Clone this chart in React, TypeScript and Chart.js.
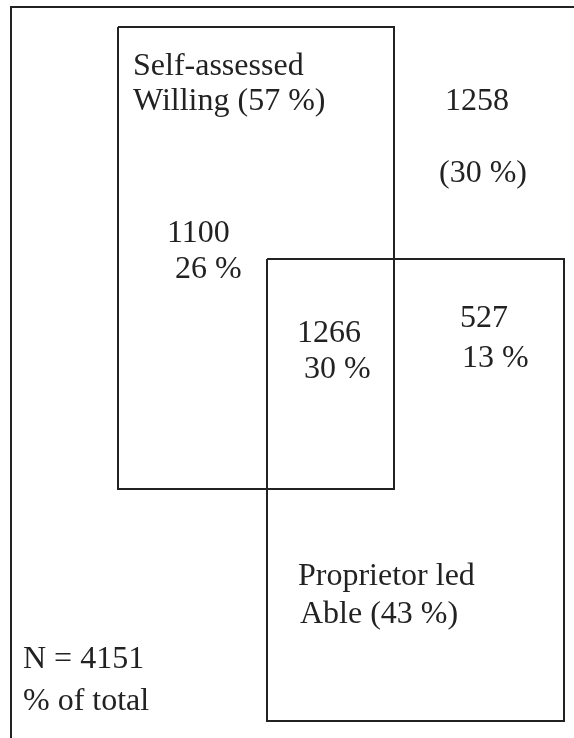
import React, { useEffect, useRef } from "react";
import { Chart, registerables } from "chart.js";

Chart.register(...registerables);

// Diagram space: x 0..574, y 0..738 (top-down)
const frameX = [590, 11, 11];
const frameY = [7, 7, 750];

const willingX = [118, 394, 394, 118, 118];
const willingY = [27, 27, 489, 489, 27];

const ableX = [267, 564, 564, 267, 267];
const ableY = [259, 259, 721, 721, 259];

const labelTexts = [
  "Self-assessed",
  "Willing (57 %)",
  "1258",
  "(30 %)",
  "1100",
  "26 %",
  "1266",
  "30 %",
  "527",
  "13 %",
  "Proprietor led",
  "Able (43 %)",
  "N = 4151",
  "% of total",
];
const labelX = [133, 133, 445, 439, 167, 175, 297, 304, 460, 462, 298, 300, 23, 23];
const labelY = [67, 102, 102, 174, 234, 270, 334, 370, 319, 359, 577, 615, 660, 702];

const INK = "#222222";
const FONT_SIZE = 32;

function toPoints(xs: number[], ys: number[]) {
  return xs.map((x, i) => ({ x, y: ys[i] }));
}

const labelPlugin = {
  id: "vennLabels",
  afterDatasetsDraw(chart: any) {
    const { ctx, scales } = chart;
    ctx.save();
    ctx.fillStyle = INK;
    ctx.font = `${FONT_SIZE}px "Liberation Serif", "DejaVu Serif", serif`;
    ctx.textAlign = "left";
    ctx.textBaseline = "middle";
    labelTexts.forEach((t, i) => {
      ctx.fillText(t, scales.x.getPixelForValue(labelX[i]), scales.y.getPixelForValue(labelY[i]));
    });
    ctx.restore();
  },
};

export default function App() {
  const ref = useRef<HTMLCanvasElement | null>(null);
  useEffect(() => {
    if (!ref.current) return;
    const lineDs = (label: string, xs: number[], ys: number[]) => ({
      label,
      data: toPoints(xs, ys),
      showLine: true,
      borderColor: INK,
      borderWidth: 2,
      pointRadius: 0,
      tension: 0,
      fill: false,
      borderJoinStyle: "miter" as const,
      clip: false as any,
    });
    const chart = new Chart(ref.current, {
      type: "scatter",
      data: {
        datasets: [
          lineDs("Frame", frameX, frameY),
          lineDs("Self-assessed Willing", willingX, willingY),
          lineDs("Proprietor led Able", ableX, ableY),
        ],
      },
      options: {
        responsive: false,
        animation: false,
        devicePixelRatio: 1,
        layout: { padding: 0 },
        plugins: { legend: { display: false }, tooltip: { enabled: false } },
        scales: {
          x: { type: "linear", min: 0, max: 574, display: false },
          y: { type: "linear", min: 0, max: 738, reverse: true, display: false },
        },
      },
      plugins: [labelPlugin],
    });
    return () => chart.destroy();
  }, []);
  return (
    <div style={{ position: "fixed", left: 0, top: 0, width: 574, height: 738, background: "#ffffff" }}>
      <canvas ref={ref} width={574} height={738} style={{ display: "block" }} />
    </div>
  );
}
